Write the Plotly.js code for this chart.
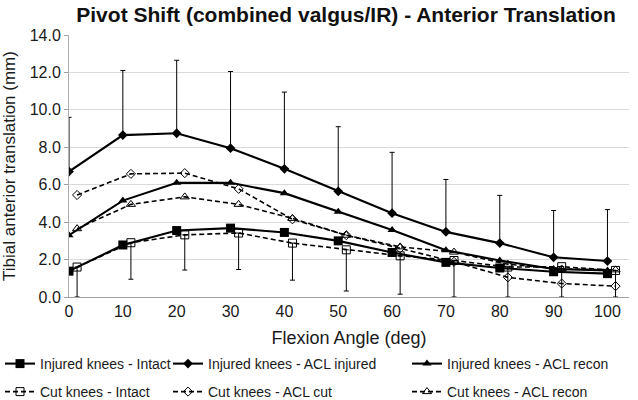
<!DOCTYPE html>
<html><head><meta charset="utf-8">
<script src="https://cdn.plot.ly/plotly-3.0.1.min.js"></script>
<style>body{margin:0;background:#fff}#c{width:638px;height:400px}</style>
</head><body><div id="c"></div>
<script>
const angles = [0,10,20,30,40,50,60,70,80,90,100];
const cutAngles = [1.5,11.5,21.5,31.5,41.5,51.5,61.5,71.5,81.5,91.5,101.5];
const injIntact = [1.38,2.78,3.55,3.68,3.45,3.0,2.38,1.85,1.55,1.35,1.25];
const injACL = [6.7,8.65,8.75,7.95,6.85,5.65,4.48,3.48,2.88,2.12,1.92];
const injACLErr = [2.9,3.45,3.9,4.1,4.1,3.45,3.25,2.8,2.55,2.5,2.75];
const injRecon = [3.3,5.15,6.1,6.1,5.55,4.55,3.58,2.5,1.95,1.5,1.42];
const cutIntact = [1.6,2.9,3.32,3.42,2.88,2.52,2.2,1.95,1.6,1.62,1.42];
const cutIntactErr = [1.6,1.95,1.88,1.95,1.98,2.2,2.05,1.95,1.6,1.62,1.42];
const cutACL = [5.45,6.58,6.62,5.78,4.15,3.3,2.6,1.88,1.05,0.72,0.58];
const cutRecon = [3.65,4.95,5.35,4.95,4.2,3.3,2.68,2.4,1.75,1.5,1.45];
const names = ['Injured knees - Intact','Injured knees - ACL injured','Injured knees - ACL recon',
               'Cut knees - Intact','Cut knees - ACL cut','Cut knees - ACL recon'];

const zeros = angles.map(()=>0);
const solid = {color:'#000', width:2.1};
const dashed = {color:'#000', width:1.6, dash:'5px,3px'};
const traces = [
  {x:angles, y:injIntact, name:names[0], legend:'legend', mode:'lines+markers', line:solid,
   marker:{symbol:'square', size:9, color:'#000'}},
  {x:angles, y:injACL, name:names[1], legend:'legend2', mode:'lines+markers', line:solid,
   marker:{symbol:'diamond', size:7.5, color:'#000'},
   error_y:{type:'data', symmetric:false, array:injACLErr, arrayminus:zeros, color:'#000', thickness:1, width:2.5}},
  {x:angles, y:injRecon, name:names[2], legend:'legend3', mode:'lines+markers', line:solid,
   marker:{symbol:'triangle-up', size:8, color:'#000'}},
  {x:cutAngles, y:cutIntact, name:names[3], legend:'legend4', mode:'lines+markers', line:dashed,
   marker:{symbol:'square-open', size:8, color:'#000', line:{width:1}},
   error_y:{type:'data', symmetric:false, array:zeros, arrayminus:cutIntactErr, color:'#000', thickness:1, width:2.5}},
  {x:cutAngles, y:cutACL, name:names[4], legend:'legend5', mode:'lines+markers', line:dashed,
   marker:{symbol:'diamond-open', size:7, color:'#000', line:{width:1}}},
  {x:cutAngles, y:cutRecon, name:names[5], legend:'legend6', mode:'lines+markers', line:dashed,
   marker:{symbol:'triangle-up-open', size:8, color:'#000', line:{width:1}}}
];
const F = 'Liberation Sans, Arial, sans-serif';
const PL = 69, PW = 560;
function leg(px, py){
  return {xref:'paper', yref:'container', x:(px-PL)/PW, y:1-py/400, xanchor:'left', yanchor:'middle',
          orientation:'v', font:{family:F, size:14, color:'#1a1a1a'}, bgcolor:'rgba(0,0,0,0)',
          itemwidth:30, borderwidth:0};
}
const layout = {
  width:638, height:400,
  margin:{l:69, r:9, t:35, b:103},
  paper_bgcolor:'#fff', plot_bgcolor:'#fff',
  font:{family:F, color:'#1a1a1a', size:14},
  title:{text:'<b>Pivot Shift (combined valgus/IR) - Anterior Translation</b>', font:{family:F, size:21, color:'#111'},
         xref:'container', yref:'container', x:346/638, xanchor:'center', y:1-15/400, yanchor:'middle'},
  xaxis:{range:[0,104], tickvals:angles, ticktext:angles.map(String), showgrid:false, zeroline:false,
         showline:true, linecolor:'#a0a0a0', linewidth:1, ticks:'', automargin:false,
         tickfont:{size:16, color:'#1a1a1a'},
         title:{text:'Flexion Angle (deg)', font:{size:18, color:'#1a1a1a'}, standoff:15}},
  yaxis:{range:[0,14], dtick:2, tickformat:'.1f', showgrid:true, gridcolor:'#d9d9d9', zeroline:false,
         showline:true, linecolor:'#b0b0b0', linewidth:1, ticks:'outside', ticklen:4, tickcolor:'#a0a0a0',
         tickfont:{size:16, color:'#1a1a1a'}, automargin:false,
         title:{text:'Tibial anterior translation (mm)', font:{size:17, color:'#1a1a1a'}, standoff:10}},
  showlegend:true,
  legend:leg(-15,364), legend2:leg(168,364), legend3:leg(407,364),
  legend4:leg(-15,392), legend5:leg(168,392), legend6:leg(407,392)
};
Plotly.newPlot('c', traces, layout, {displayModeBar:false, staticPlot:true});
</script></body></html>
